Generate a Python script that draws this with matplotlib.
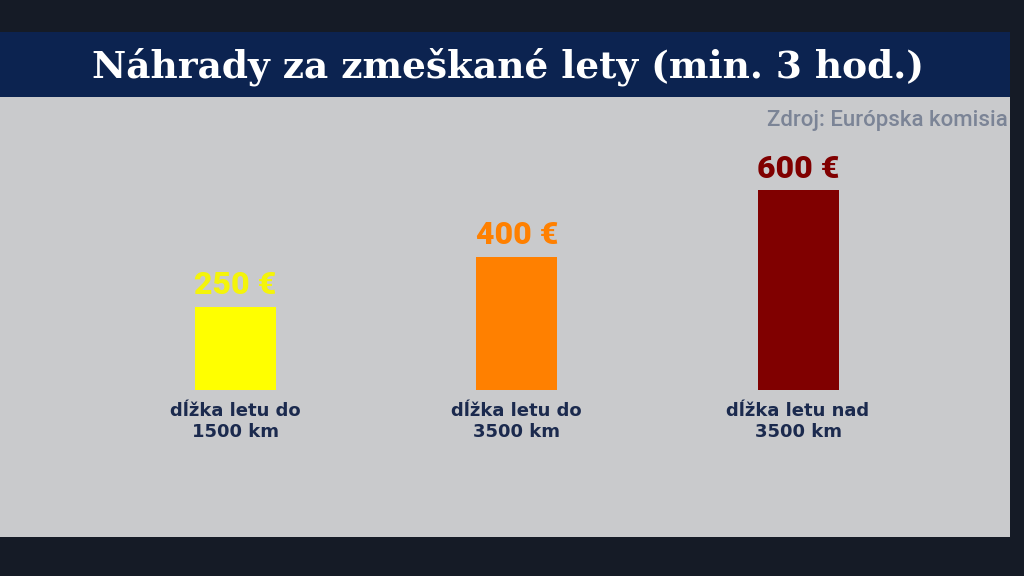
import matplotlib
matplotlib.use("Agg")
import matplotlib.pyplot as plt
from matplotlib.patches import Rectangle

# Data
categories = ["dĺžka letu do\n1500 km", "dĺžka letu do\n3500 km", "dĺžka letu nad\n3500 km"]
values = [250, 400, 600]
value_labels = ["250 €", "400 €", "600 €"]
bar_colors = ["#ffff00", "#ff8000", "#800000"]
label_colors = ["#f4f40a", "#ff8000", "#800000"]

title = "Náhrady za zmeškané lety (min. 3 hod.)"
source = "Zdroj: Európska komisia"

W, H = 1024, 576
fig = plt.figure(figsize=(W / 100, H / 100), dpi=100)
fig.patch.set_facecolor("#151b26")

# Background panels (pixel coords from top-left -> figure fraction)
def px_rect(x0, y0, x1, y1, color):
    fig.add_artist(Rectangle((x0 / W, 1 - y1 / H), (x1 - x0) / W, (y1 - y0) / H,
                             transform=fig.transFigure, facecolor=color,
                             edgecolor="none", zorder=0))

px_rect(0, 97, 1010, 537, "#c9cacc")   # grey panel
px_rect(0, 32, 1010, 97, "#0c2350")    # title bar

fig.text(508 / W, 1 - 78 / H, title, ha="center", va="baseline",
         family="DejaVu Serif", weight="bold", fontsize=27, color="white")
fig.text(1008 / W, 1 - 126 / H, source, ha="right", va="baseline",
         family="Roboto", weight=500, fontsize=16, color="#7b8496")

# Bar chart: baseline at y=390px, 1/3 px per euro
ax = fig.add_axes([94.9 / W, 1 - 390 / H, 843.75 / W, 700 / 3 / H])
ax.set_facecolor("none")
x = list(range(len(values)))
ax.bar(x, values, width=0.288, color=bar_colors)
ax.set_xlim(-0.5, 2.5)
ax.set_ylim(0, 700)
ax.axis("off")

for i, v in enumerate(values):
    ax.annotate(value_labels[i], (i, v), xytext=(0, 9), textcoords="offset points",
                ha="center", va="baseline", family="Roboto", weight=900,
                fontsize=23, color=label_colors[i], annotation_clip=False)
    ax.annotate(categories[i], (i, 0), xytext=(0, -9), textcoords="offset points",
                ha="center", va="top", family="DejaVu Sans", weight="bold",
                fontsize=13, linespacing=1.2, color="#1b2a4e",
                annotation_clip=False)

fig.savefig("out.png", dpi=100, facecolor=fig.get_facecolor())
